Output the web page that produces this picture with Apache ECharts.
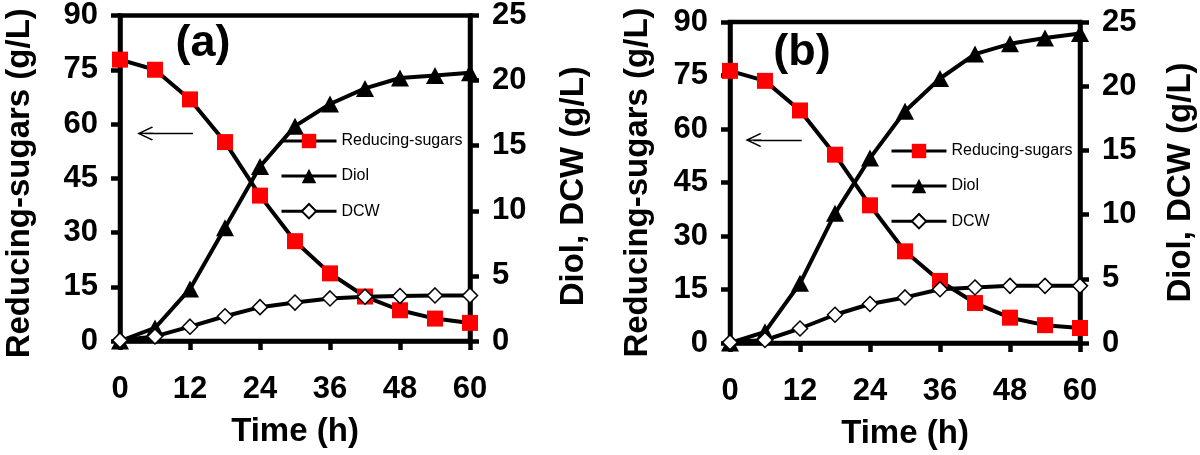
<!DOCTYPE html>
<html><head><meta charset="utf-8">
<script src="https://cdn.jsdelivr.net/npm/echarts@6/dist/echarts.min.js"></script>
<style>html,body{margin:0;padding:0;background:#fff}#c{width:1200px;height:455px}</style>
</head><body><div id="c"></div>
<script>
// ---- data ----
const times = [0, 6, 12, 18, 24, 30, 36, 42, 48, 54, 60];
const sugarsA = [77.8, 75.0, 66.8, 55.0, 40.2, 27.6, 18.7, 12.3, 8.5, 6.2, 5.0];
const diolA   = [0, 1.0, 4.0, 8.7, 13.4, 16.5, 18.2, 19.4, 20.2, 20.4, 20.6];
const dcwA    = [0.05, 0.35, 1.1, 1.9, 2.6, 2.95, 3.27, 3.4, 3.45, 3.5, 3.5];
const sugarsB = [76.3, 73.5, 65.2, 52.8, 38.6, 25.7, 17.4, 11.2, 7.1, 5.0, 4.2];
const diolB   = [0, 0.87, 4.65, 10.1, 14.4, 18.05, 20.6, 22.5, 23.3, 23.75, 24.1];
const dcwB    = [0.05, 0.23, 1.13, 2.2, 3.04, 3.55, 4.19, 4.32, 4.45, 4.45, 4.45];
const seriesNames = ['Reducing-sugars', 'Diol', 'DCW'];
const panelLabels = ['(a)', '(b)'];
const xName = 'Time (h)';
const yLeftName = 'Reducing-sugars (g/L)';
const yRightName = 'Diol, DCW (g/L)';
// arrow annotations (data coords on left axis): [xFrom, xTo, y]
const arrowA = [12.5, 4.3, 57.4];
const arrowB = [12.3, 4.0, 56.9];

const FONT = '"Liberation Sans", Arial, Helvetica, sans-serif';
const pairs = vals => times.map((t, i) => [t, vals[i]]);
const ARROW = 'path://M5,0 L10,9.2 L9.3,10 L5,2.2 L0.7,10 L0,9.2 Z M4.55,0.6 L5.45,0.6 L5.45,10 L4.55,10 Z';

const grids = [
  {left: 120, top: 12, width: 350, height: 329},
  {left: 730, top: 22, width: 350, height: 326}
];
// per-panel name tweaks: [leftGap, leftPad, rightGap, rightPad]
const nameTweaks = [[84, 10, 87, 16], [76, 0, 84, 0]];

const axLine = {show: true, onZero: false, lineStyle: {color: '#000', width: 4.5}};
const axTick = {show: true, length: 9, lineStyle: {color: '#000', width: 4.5}};
const tickFont = {fontSize: 31, fontWeight: 'bold', color: '#000', fontFamily: FONT};
const nameFont = {fontSize: 33, fontWeight: 'bold', color: '#000', fontFamily: FONT};

const xAxes = [0, 1].map(g => ({
  gridIndex: g, type: 'value', min: 0, max: 60, interval: 12,
  name: xName, nameLocation: 'middle', nameGap: 74, nameTextStyle: nameFont,
  axisLine: axLine, axisTick: axTick,
  axisLabel: Object.assign({margin: 33}, tickFont),
  splitLine: {show: false}
}));
const yAxes = [];
[0, 1].forEach(g => {
  const tw = nameTweaks[g];
  yAxes.push({
    gridIndex: g, type: 'value', position: 'left', min: 0, max: 90, interval: 15,
    name: yLeftName, nameLocation: 'middle', nameRotate: 90, nameGap: tw[0],
    nameTextStyle: Object.assign({padding: [0, tw[1], 0, 0]}, nameFont),
    axisLine: axLine, axisTick: axTick,
    axisLabel: Object.assign({margin: 22}, tickFont),
    splitLine: {show: false}
  });
  yAxes.push({
    gridIndex: g, type: 'value', position: 'right', min: 0, max: 25, interval: 5,
    name: yRightName, nameLocation: 'middle', nameRotate: 90, nameGap: tw[2],
    nameTextStyle: Object.assign({padding: [0, tw[3], 0, 0]}, nameFont),
    axisLine: axLine, axisTick: axTick,
    axisLabel: Object.assign({margin: 22}, tickFont),
    splitLine: {show: false}
  });
});

const sets = [[sugarsA, diolA, dcwA, arrowA], [sugarsB, diolB, dcwB, arrowB]];
const series = [];
sets.forEach((s, g) => {
  const [sug, dio, dcw, arr] = s;
  series.push({
    type: 'line', name: seriesNames[0], xAxisIndex: g, yAxisIndex: 2 * g,
    data: pairs(sug), symbol: 'rect', symbolSize: 16, clip: false,
    itemStyle: {color: '#ff0000'}, lineStyle: {color: '#000', width: 4},
    animation: false, z: 2,
    markLine: {
      silent: true, animation: false, symbol: ['none', ARROW], symbolSize: [14, 16],
      label: {show: false}, lineStyle: {color: '#000', width: 1.3, type: 'solid'},
      itemStyle: {color: '#000'},
      data: [[{coord: [arr[0], arr[2]]}, {coord: [arr[1], arr[2]]}]]
    }
  });
  series.push({
    type: 'line', name: seriesNames[1], xAxisIndex: g, yAxisIndex: 2 * g + 1,
    data: pairs(dio), symbol: 'triangle', symbolSize: [18, 17], clip: false,
    itemStyle: {color: '#000'}, lineStyle: {color: '#000', width: 4},
    animation: false, z: 3
  });
  series.push({
    type: 'line', name: seriesNames[2], xAxisIndex: g, yAxisIndex: 2 * g + 1,
    data: pairs(dcw), symbol: 'diamond', symbolSize: 15, clip: false,
    itemStyle: {color: '#fff', borderColor: '#000', borderWidth: 1.5},
    lineStyle: {color: '#000', width: 4},
    animation: false, z: 4
  });
});

const legendBase = {
  orient: 'vertical', itemWidth: 55, itemHeight: 18, itemGap: 19, padding: 0,
  selectedMode: false, data: seriesNames,
  lineStyle: {width: 3, color: '#000'},
  textStyle: {fontSize: 16, color: '#000', fontFamily: FONT}
};
const option = {
  animation: false,
  backgroundColor: '#fff',
  grid: grids.map(g => Object.assign({show: true, borderColor: '#000', borderWidth: 4.5, backgroundColor: 'transparent'}, g)),
  xAxis: xAxes,
  yAxis: yAxes,
  legend: [
    Object.assign({left: 280, top: 133}, legendBase),
    Object.assign({left: 890, top: 143}, legendBase)
  ],
  graphic: [
    {type: 'text', x: 203, y: 44, style: {text: panelLabels[0], fontSize: 45, fontWeight: 'bold', fontFamily: FONT, fill: '#000', align: 'center', verticalAlign: 'middle'}},
    {type: 'text', x: 802, y: 53, style: {text: panelLabels[1], fontSize: 45, fontWeight: 'bold', fontFamily: FONT, fill: '#000', align: 'center', verticalAlign: 'middle'}}
  ],
  series: series
};
const chart = echarts.init(document.getElementById('c'));
chart.setOption(option);
</script></body></html>
